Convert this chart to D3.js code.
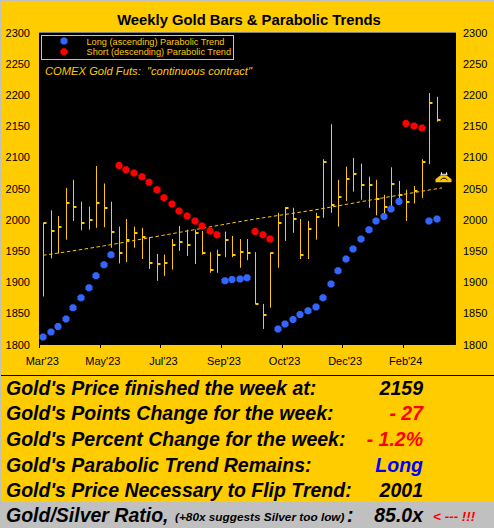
<!DOCTYPE html>
<html><head><meta charset="utf-8">
<script src="https://cdnjs.cloudflare.com/ajax/libs/d3/7.8.5/d3.min.js"></script>
<style>html,body{margin:0;padding:0;background:#FFCC00}svg{display:block}text{font-family:"Liberation Sans",Arial,sans-serif}</style>
</head><body><svg id="c" width="494" height="528"></svg>
<script>
const monthLabels=["Mar'23","May'23","Jul'23","Sep'23","Oct'23","Dec'23","Feb'24"];
const monthTickIdx=[0,8,16,24,32,40,48];
const yTicks=[1800,1850,1900,1950,2000,2050,2100,2150,2200,2250,2300];
const highs=[1995,2015,2006,2051,2064,2029,2021,2086,2058,2029,1989,2001,1989,1987,1972,1945,1944,1969,1990,1984,1984,1982,1948,1952,1981,1974,1969,1969,1948,1865,1947,2011,2020,2019,2001,1998,2011,2097,2153,2064,2085,2099,2090,2069,2064,2040,2084,2062,2048,2054,2097,2203,2197];
const lows=[1877,1938,1946,1968,1998,1983,1984,1987,1988,1955,1930,1932,1955,1937,1921,1902,1910,1920,1950,1942,1929,1944,1915,1915,1940,1940,1923,1935,1865,1825,1859,1923,1966,1979,1937,1937,1968,2003,2011,1989,2030,2045,2032,2019,2007,2002,2018,2024,1998,2026,2035,2089,2157];
const closes=[1995,1982,1989,2026,2020,1995,2000,2026,2018,1981,1947,1967,1978,1973,1931,1929,1931,1960,1965,1960,1979,1947,1920,1944,1968,1943,1948,1946,1865,1848,1947,1994,2018,2001,1944,1985,2005,2093,2023,2036,2065,2073,2055,2055,2033,2020,2058,2040,2028,2046,2093,2187,2159];
const sar=[1812,1820,1829,1841,1859,1875,1891,1910,1928,1944,2087,2080,2075,2069,2060,2048,2035,2025,2014,2006,1998,1990,1982,1976,1902,1904,1905,1907,1981,1976,1969,1825,1833,1840,1848,1854,1860,1875,1897,1918,1937,1953,1969,1984,1998,2005,2017,2029,2154,2150,2147,1998,2001];
const sarSide=["L","L","L","L","L","L","L","L","L","L","S","S","S","S","S","S","S","S","S","S","S","S","S","S","L","L","L","L","S","S","S","L","L","L","L","L","L","L","L","L","L","L","L","L","L","L","L","L","S","S","S","L","L"];
const trendIdx=[0,8,14,20,27,37,43,52.7];
const trendVal=[1943,1958,1971,1984,1999,2018,2031,2051];
const legendLabels=["Long (ascending) Parabolic Trend","Short (descending) Parabolic Trend"];
const titleText="Weekly Gold Bars & Parabolic Trends";
const noteText="COMEX Gold Futs:  \"continuous contract\"";
const tableRows=[["Gold's Price finished the week at:","2159","#000"],["Gold's Points Change for the week:","- 27","#f00"],["Gold's Percent Change for the week:","- 1.2%","#f00"],["Gold's Parabolic Trend Remains:","Long","#00f"],["Gold's Price Necessary to Flip Trend:","2001","#000"]];

const GOLD="#FFCC00",BAR="#FFC800",BLUE="#3366FF",RED="#FF0000";
const svg=d3.select("#c");
svg.append("rect").attr("width",494).attr("height",528).attr("fill",GOLD);
svg.append("rect").attr("width",494).attr("height",1).attr("fill","#c0c0c0");
svg.append("rect").attr("width",1).attr("height",528).attr("fill","#c0c0c0");

const x=d3.scaleBand().domain(d3.range(55)).range([39.3,455.7]);
const cx=i=>Math.round(x(i)+x.bandwidth()/2)+0.5;
const y=d3.scaleLinear().domain([1800,2300]).range([344.5,32.5]);

svg.append("rect").attr("x",39).attr("y",32).attr("width",417).attr("height",313).attr("fill","#000");
svg.append("line").attr("x1",39).attr("x2",456).attr("y1",32.5).attr("y2",32.5).attr("stroke","#808080");

svg.append("text").attr("x",249).attr("y",25).attr("text-anchor","middle").attr("font-weight","bold").attr("font-size",14.8).text(titleText);

const axisL=d3.axisLeft(y).tickValues(yTicks).tickFormat(d3.format("d")).tickSize(0).tickPadding(9);
const axisR=d3.axisRight(y).tickValues(yTicks).tickFormat(d3.format("d")).tickSize(0).tickPadding(7);
[svg.append("g").attr("transform","translate(39,0)").call(axisL),svg.append("g").attr("transform","translate(456,0)").call(axisR)].forEach(g=>{
  g.select(".domain").remove();
  g.selectAll("text").attr("font-size",11).attr("fill","#000").attr("font-family","Liberation Sans");
});
const tx=i=>x(i);
const gx=svg.append("g");
gx.selectAll("line").data(monthTickIdx).join("line").attr("x1",i=>Math.round(tx(i))+0.5).attr("x2",i=>Math.round(tx(i))+0.5).attr("y1",344).attr("y2",348).attr("stroke","#000");
gx.selectAll("text").data(monthTickIdx).join("text").attr("x",i=>tx(i)+3).attr("y",365).attr("text-anchor","middle").attr("font-size",11).text((d,i)=>monthLabels[i]);

const line=d3.line().x((d,i)=>x(0)+x.bandwidth()/2+trendIdx[i]*x.step()).y(d=>y(d)).curve(d3.curveMonotoneX);
svg.append("path").attr("d",line(trendVal)).attr("fill","none").attr("stroke",BAR).attr("stroke-width",1).attr("stroke-dasharray","3.5,2.5");

const bars=svg.append("g");
bars.selectAll("line").data(d3.range(highs.length)).join("line").attr("x1",cx).attr("x2",cx).attr("y1",i=>y(highs[i])).attr("y2",i=>y(lows[i])).attr("stroke",BAR);
bars.selectAll("rect").data(d3.range(highs.length)).join("rect").attr("x",i=>cx(i)).attr("y",i=>Math.round(y(closes[i]))-1).attr("width",3).attr("height",2).attr("fill",BAR);

const diamond="M-1.5,-3.5H1.5L3.5,-1.5V1.5L1.5,3.5H-1.5L-3.5,1.5V-1.5Z";
svg.append("g").selectAll("path").data(d3.range(sar.length)).join("path").attr("d",diamond).attr("transform",i=>`translate(${cx(i)-0.5},${y(sar[i])})`).attr("fill",i=>sarSide[i]==="L"?BLUE:RED);

const lg=svg.append("g");
lg.append("rect").attr("x",41.5).attr("y",35.5).attr("width",192).attr("height",24).attr("fill","#000").attr("stroke",BAR);
lg.selectAll("path").data([BLUE,RED]).join("path").attr("d",diamond).attr("fill",d=>d).attr("transform",(d,i)=>`translate(64,${41+i*10.8})`);
lg.selectAll("text").data(legendLabels).join("text").attr("x",86.5).attr("y",(d,i)=>44.5+i*10.8).attr("font-size",9.2).attr("fill",BAR).text(d=>d);
svg.append("text").attr("x",45).attr("y",75).attr("font-size",11.2).attr("font-style","italic").attr("fill",BAR).attr("xml:space","preserve").text(noteText);

const ic=svg.append("g").attr("transform",`translate(${cx(53)-1},${y(2068)})`);
ic.append("path").attr("d","M-8,5V2L-3,-2H3L8,2V5Z").attr("fill",BAR);
ic.append("path").attr("d","M-3,3L-1,1H2L4,3").attr("stroke","#000").attr("fill","none");
ic.append("path").attr("d","M-3,-3H4M-2,-5V-3M3,-5V-3").attr("stroke","#fff").attr("fill","none");

svg.append("line").attr("x1",1).attr("x2",494).attr("y1",375.5).attr("y2",375.5).attr("stroke","#000");
svg.append("rect").attr("x",1).attr("y",502).attr("width",493).attr("height",26).attr("fill","#c0c0c0");
const rowsG=svg.append("g").attr("font-weight","bold").attr("font-style","italic").attr("font-size",19.5);
tableRows.forEach((r,i)=>{
  const yy=394.7+i*25.6;
  rowsG.append("text").attr("x",6).attr("y",yy).attr("fill","#000").text(r[0]);
  rowsG.append("text").attr("x",423).attr("y",yy).attr("text-anchor","end").attr("fill",r[2]).text(r[1]);
});
const bb=svg.append("g").attr("font-weight","bold").attr("font-style","italic");
bb.append("text").attr("x",6).attr("y",522).attr("font-size",19.5).text("Gold/Silver Ratio,");
bb.append("text").attr("x",175).attr("y",521).attr("font-size",11.8).text("(+80x suggests Silver too low)");
bb.append("text").attr("x",347).attr("y",522).attr("font-size",19.5).text(":");
bb.append("text").attr("x",423).attr("y",522).attr("text-anchor","end").attr("font-size",19.5).text("85.0x");
bb.append("text").attr("x",433).attr("y",521).attr("font-size",13.5).attr("fill","#f00").text("< --- !!!");
</script></body></html>
